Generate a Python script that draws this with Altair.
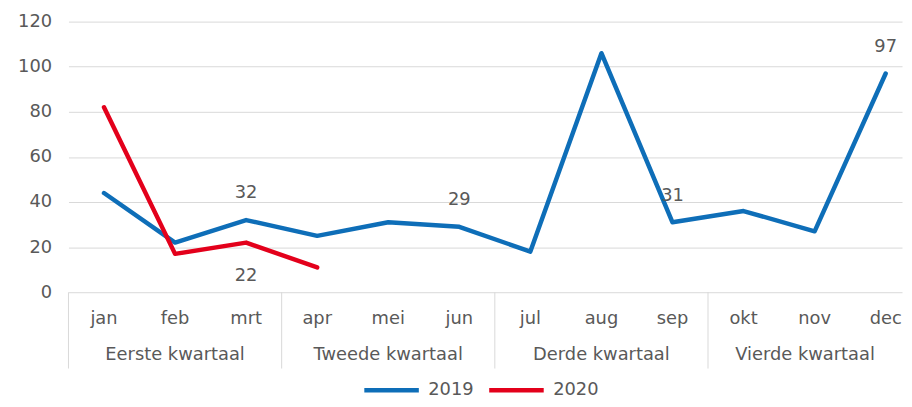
import altair as alt
import pandas as pd

months = ["jan", "feb", "mrt", "apr", "mei", "jun", "jul", "aug", "sep", "okt", "nov", "dec"]
quarters = ["Eerste kwartaal", "Tweede kwartaal", "Derde kwartaal", "Vierde kwartaal"]
series = ["2019", "2020"]
values_2019 = [44, 22, 32, 25, 31, 29, 18, 106, 31, 36, 27, 97]
values_2020 = [82, 17, 22, 11]
labels_above_2019 = ["mrt", "jun", "sep", "dec"]
labels_below_2020 = ["mrt"]
y_ticks = [0, 20, 40, 60, 80, 100, 120]

BLUE = "#0E6EB8"
RED = "#E3001B"
GREY = "#595959"
FONT = "DejaVu Sans"
FS = 18

X_MIN, X_MAX = -0.5, 11.23

rows = []
for i, v in enumerate(values_2019):
    rows.append({"idx": i, "maand": months[i], "waarde": v, "jaar": "2019"})
for i, v in enumerate(values_2020):
    rows.append({"idx": i, "maand": months[i], "waarde": v, "jaar": "2020"})
df = pd.DataFrame(rows)

above = df[(df.jaar == "2019") & (df.maand.isin(labels_above_2019))]
below = df[(df.jaar == "2020") & (df.maand.isin(labels_below_2020))]

month_df = pd.DataFrame({"idx": list(range(12)), "maand": months})
q_centers = []
for q in range(4):
    start = q * 3 - 0.5
    end = min(q * 3 + 2.5, X_MAX)
    q_centers.append((start + end) / 2)
quarter_df = pd.DataFrame({"idx": q_centers, "kwartaal": quarters})
sep_df = pd.DataFrame({"idx": [q * 3 - 0.5 for q in range(4)]})

xscale = alt.Scale(domain=[X_MIN, X_MAX], nice=False, zero=False)
yscale = alt.Scale(domain=[0, 120], nice=False)
yaxis = alt.Axis(values=y_ticks, title=None, domain=False, ticks=False, labelPadding=17,
                 labelColor=GREY, labelFont=FONT, labelFontSize=FS,
                 gridColor="#D9D9D9", gridWidth=1)

X = alt.X("idx:Q", scale=xscale, axis=None)
Y = alt.Y("waarde:Q", scale=yscale, axis=yaxis)

lines = alt.Chart(df).mark_line(strokeWidth=4.5, strokeCap="round", strokeJoin="round").encode(
    x=X,
    y=Y,
    color=alt.Color("jaar:N", scale=alt.Scale(domain=series, range=[BLUE, RED]),
                    legend=alt.Legend(title=None, orient="none", direction="horizontal",
                                      legendX=296, legendY=342, symbolType="stroke",
                                      symbolSize=3025, symbolStrokeWidth=4.5,
                                      labelFont=FONT, labelFontSize=FS, labelColor=GREY,
                                      labelOffset=7, columnPadding=6)),
)

text_above = alt.Chart(above).mark_text(dy=-22, baseline="alphabetic", font=FONT,
                                        fontSize=FS, color=GREY).encode(
    x=X, y=Y, text="waarde:Q")
text_below = alt.Chart(below).mark_text(dy=39, baseline="alphabetic", font=FONT,
                                        fontSize=FS, color=GREY).encode(
    x=X, y=Y, text="waarde:Q")

month_text = alt.Chart(month_df).mark_text(baseline="alphabetic", font=FONT, fontSize=FS,
                                           color=GREY).encode(
    x=X, y=alt.value(305.5), text="maand:N")
quarter_text = alt.Chart(quarter_df).mark_text(baseline="alphabetic", font=FONT, fontSize=FS,
                                               color=GREY).encode(
    x=X, y=alt.value(341.5), text="kwartaal:N")
seps = alt.Chart(sep_df).mark_rule(color="#D9D9D9", strokeWidth=1).encode(
    x=X, y=alt.value(273), y2=alt.value(350))

chart = alt.layer(lines, seps, text_above, text_below, month_text, quarter_text).properties(
    width=841, height=273,
    autosize=alt.AutoSizeParams(type="none"),
    padding={"left": 61, "top": 12, "right": 2, "bottom": 106},
).configure_view(stroke=None)

chart.save("out.html", embed_options={"renderer": "svg", "actions": False})
